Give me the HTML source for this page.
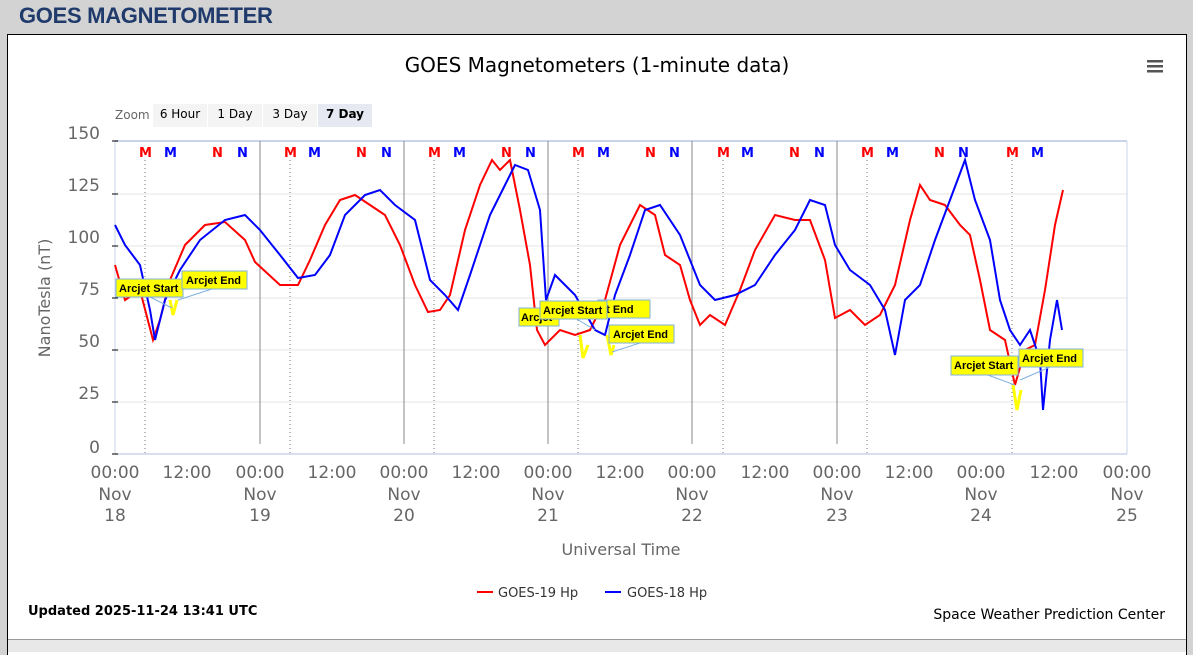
<!DOCTYPE html>
<html><head><meta charset="utf-8"><style>
body{margin:0;width:1193px;height:650px;background:#d3d3d3;font-family:"Liberation Sans",sans-serif;overflow:hidden;position:relative}
.hdr{position:absolute;left:19px;top:3px;font-size:22px;font-weight:bold;color:#1f3a6b;letter-spacing:-0.3px}
.box{position:absolute;left:7px;top:34px;width:1178px;height:620px;background:#fff;border:1px solid #000;border-bottom:none}
.tabs{position:absolute;left:8px;top:639px;width:1178px;height:12px;background:#e8e8e8;border-top:1px solid #999}
svg{position:absolute;left:0;top:0}
</style></head><body>
<div class="hdr">GOES MAGNETOMETER</div>
<div class="box"></div>
<div class="tabs"></div>
<svg width="1193" height="650" font-family="DejaVu Sans, sans-serif">
<text x="597" y="72" font-size="20" text-anchor="middle" fill="#000">GOES Magnetometers (1-minute data)</text>
<g fill="#555"><rect x="1147" y="60" width="16" height="2.5"/><rect x="1147" y="65" width="16" height="2.5"/><rect x="1147" y="70" width="16" height="2.5"/></g>
<text x="115" y="119" font-size="12" fill="#666">Zoom</text>
<rect x="153" y="104" width="54" height="23" fill="#f4f4f4"/><text x="180" y="118" font-size="12" text-anchor="middle">6 Hour</text>
<rect x="208" y="104" width="54" height="23" fill="#f4f4f4"/><text x="235" y="118" font-size="12" text-anchor="middle">1 Day</text>
<rect x="263" y="104" width="54" height="23" fill="#f4f4f4"/><text x="290" y="118" font-size="12" text-anchor="middle">3 Day</text>
<rect x="318" y="104" width="54" height="23" fill="#e6e9f2"/><text x="345" y="118" font-size="12" font-weight="bold" text-anchor="middle">7 Day</text>
<!-- grid -->
<g stroke="#e4e4e4"><line x1="115" x2="1127" y1="402" y2="402"/><line x1="115" x2="1127" y1="350" y2="350"/><line x1="115" x2="1127" y1="298" y2="298"/><line x1="115" x2="1127" y1="246" y2="246"/><line x1="115" x2="1127" y1="194" y2="194"/></g>
<g stroke="#c8d4ea"><line x1="115" x2="1127" y1="141" y2="141" stroke-width="2"/><line x1="115" x2="1127" y1="454" y2="454" stroke-width="1.5"/><line x1="1127" x2="1127" y1="141" y2="454"/><line x1="115" x2="115" y1="141" y2="454"/></g>
<g stroke="#000"><line x1="112" x2="118" y1="141" y2="141"/><line x1="112" x2="118" y1="194" y2="194"/><line x1="112" x2="118" y1="246" y2="246"/><line x1="112" x2="118" y1="298" y2="298"/><line x1="112" x2="118" y1="350" y2="350"/><line x1="112" x2="118" y1="402" y2="402"/><line x1="112" x2="118" y1="454" y2="454"/></g>
<g stroke="#888"><line x1="260" x2="260" y1="141" y2="444"/><line x1="404" x2="404" y1="141" y2="444"/><line x1="548" x2="548" y1="141" y2="444"/><line x1="692" x2="692" y1="141" y2="444"/><line x1="837" x2="837" y1="141" y2="444"/></g>
<g stroke="#777" stroke-dasharray="1,3"><line x1="145" x2="145" y1="160" y2="454"/><line x1="290" x2="290" y1="160" y2="454"/><line x1="434" x2="434" y1="160" y2="454"/><line x1="578" x2="578" y1="160" y2="454"/><line x1="723" x2="723" y1="160" y2="454"/><line x1="867" x2="867" y1="160" y2="454"/><line x1="1012" x2="1012" y1="160" y2="454"/></g>
<g id="tk" stroke="#c8d4ea"></g>
<g font-size="13" font-weight="bold">
<text x="139" y="157" fill="#f00">M</text><text x="164" y="157" fill="#00f">M</text><text x="212" y="157" fill="#f00">N</text><text x="237" y="157" fill="#00f">N</text>
<text x="284" y="157" fill="#f00">M</text><text x="308" y="157" fill="#00f">M</text><text x="356" y="157" fill="#f00">N</text><text x="381" y="157" fill="#00f">N</text>
<text x="428" y="157" fill="#f00">M</text><text x="453" y="157" fill="#00f">M</text><text x="501" y="157" fill="#f00">N</text><text x="525" y="157" fill="#00f">N</text>
<text x="572" y="157" fill="#f00">M</text><text x="597" y="157" fill="#00f">M</text><text x="645" y="157" fill="#f00">N</text><text x="669" y="157" fill="#00f">N</text>
<text x="717" y="157" fill="#f00">M</text><text x="741" y="157" fill="#00f">M</text><text x="789" y="157" fill="#f00">N</text><text x="814" y="157" fill="#00f">N</text>
<text x="861" y="157" fill="#f00">M</text><text x="886" y="157" fill="#00f">M</text><text x="934" y="157" fill="#f00">N</text><text x="958" y="157" fill="#00f">N</text>
<text x="1006" y="157" fill="#f00">M</text><text x="1031" y="157" fill="#00f">M</text>
</g>
<g font-size="17" fill="#666" text-anchor="end"><text x="100" y="139">150</text><text x="100" y="191">125</text><text x="100" y="243">100</text><text x="100" y="295">75</text><text x="100" y="347">50</text><text x="100" y="399">25</text><text x="100" y="453">0</text></g>
<text transform="translate(50,298) rotate(-90)" font-size="16" fill="#666" text-anchor="middle">NanoTesla (nT)</text>
<g font-size="17" fill="#666" text-anchor="middle">
<text x="115" y="478">00:00</text><text x="115" y="500">Nov</text><text x="115" y="521">18</text>
<text x="187" y="478">12:00</text>
<text x="260" y="478">00:00</text><text x="260" y="500">Nov</text><text x="260" y="521">19</text>
<text x="332" y="478">12:00</text>
<text x="404" y="478">00:00</text><text x="404" y="500">Nov</text><text x="404" y="521">20</text>
<text x="476" y="478">12:00</text>
<text x="548" y="478">00:00</text><text x="548" y="500">Nov</text><text x="548" y="521">21</text>
<text x="620" y="478">12:00</text>
<text x="692" y="478">00:00</text><text x="692" y="500">Nov</text><text x="692" y="521">22</text>
<text x="765" y="478">12:00</text>
<text x="837" y="478">00:00</text><text x="837" y="500">Nov</text><text x="837" y="521">23</text>
<text x="909" y="478">12:00</text>
<text x="981" y="478">00:00</text><text x="981" y="500">Nov</text><text x="981" y="521">24</text>
<text x="1054" y="478">12:00</text>
<text x="1127" y="478">00:00</text><text x="1127" y="500">Nov</text><text x="1127" y="521">25</text>
</g>
<text x="621" y="555" font-size="16" fill="#666" text-anchor="middle">Universal Time</text>
<polyline fill="none" stroke="#f00" stroke-width="2" points="115,265 125,300 140,290 153,340 160,320 170,280 185,245 205,225 225,222 245,240 255,262 280,285 298,285 310,260 325,225 340,200 355,195 370,205 385,215 400,245 415,285 428,312 440,310 450,295 465,230 480,185 492,160 500,170 510,160 520,210 530,265 537,330 545,345 560,330 575,335 590,330 605,300 620,245 640,205 655,215 665,255 680,265 690,300 700,325 710,315 725,325 740,290 755,250 775,215 795,220 810,220 825,260 835,318 850,310 865,325 880,315 895,285 910,220 920,185 930,200 945,205 960,225 970,235 980,280 990,330 1005,340 1015,385 1025,350 1035,345 1045,290 1055,225 1063,190"/>
<polyline fill="none" stroke="#00f" stroke-width="2" points="115,225 125,245 140,265 150,310 155,340 165,300 180,270 200,240 225,220 245,215 260,230 280,255 298,278 315,275 330,255 345,215 365,195 380,190 395,205 415,220 430,280 445,295 458,310 470,275 490,215 505,185 515,165 528,170 540,210 546,300 555,275 575,295 595,330 605,335 615,295 630,255 645,210 660,205 680,235 700,285 715,300 735,295 755,285 775,255 795,230 810,200 825,205 835,245 850,270 870,285 885,310 895,355 905,300 920,285 935,240 950,200 965,160 975,200 990,240 1000,300 1010,330 1020,345 1030,330 1040,360 1043,410 1050,340 1057,300 1062,330"/>
<g fill="none" stroke="#ff0" stroke-width="3"><polyline points="170,300 173,315 177,300"/><polyline points="580,335 583,358 588,345"/><polyline points="607,335 611,355 614,345"/><polyline points="1013,385 1017,410 1021,390"/></g>
<g stroke="#7fb0e0" stroke-width="1"><line x1="150" y1="297" x2="172" y2="308"/><line x1="215" y1="288" x2="178" y2="300"/><line x1="575" y1="318" x2="595" y2="330"/><line x1="640" y1="343" x2="612" y2="352"/><line x1="985" y1="374" x2="1015" y2="385"/><line x1="1050" y1="367" x2="1020" y2="380"/></g>
<g font-size="11" font-weight="bold" font-family="Liberation Sans, sans-serif">
<rect x="116" y="279" width="67" height="18" fill="#ff0" stroke="#7fb0e0"/><text x="119" y="292">Arcjet Start</text>
<rect x="182" y="271" width="65" height="18" fill="#ff0" stroke="#7fb0e0"/><text x="186" y="284">Arcjet End</text>
<rect x="519" y="308" width="40" height="18" fill="#ff0" stroke="#7fb0e0"/><text x="521" y="321">Arcjet</text>
<rect x="598" y="300" width="52" height="18" fill="#ff0" stroke="#7fb0e0"/><text x="600" y="313">et End</text>
<rect x="540" y="301" width="67" height="18" fill="#ff0" stroke="#7fb0e0"/><text x="543" y="314">Arcjet Start</text>
<rect x="609" y="325" width="65" height="18" fill="#ff0" stroke="#7fb0e0"/><text x="613" y="338">Arcjet End</text>
<rect x="951" y="356" width="67" height="19" fill="#ff0" stroke="#7fb0e0"/><text x="954" y="369">Arcjet Start</text>
<rect x="1019" y="349" width="64" height="18" fill="#ff0" stroke="#7fb0e0"/><text x="1022" y="362">Arcjet End</text>
</g>
<line x1="477" x2="493" y1="592" y2="592" stroke="#f00" stroke-width="2"/><text x="498" y="597" font-size="13" fill="#333">GOES-19 Hp</text>
<line x1="605" x2="621" y1="592" y2="592" stroke="#00f" stroke-width="2"/><text x="627" y="597" font-size="13" fill="#333">GOES-18 Hp</text>
<text x="28" y="615" font-size="13" font-weight="bold">Updated 2025-11-24 13:41 UTC</text>
<text x="1165" y="619" font-size="14" text-anchor="end">Space Weather Prediction Center</text>
</svg>
</body></html>
